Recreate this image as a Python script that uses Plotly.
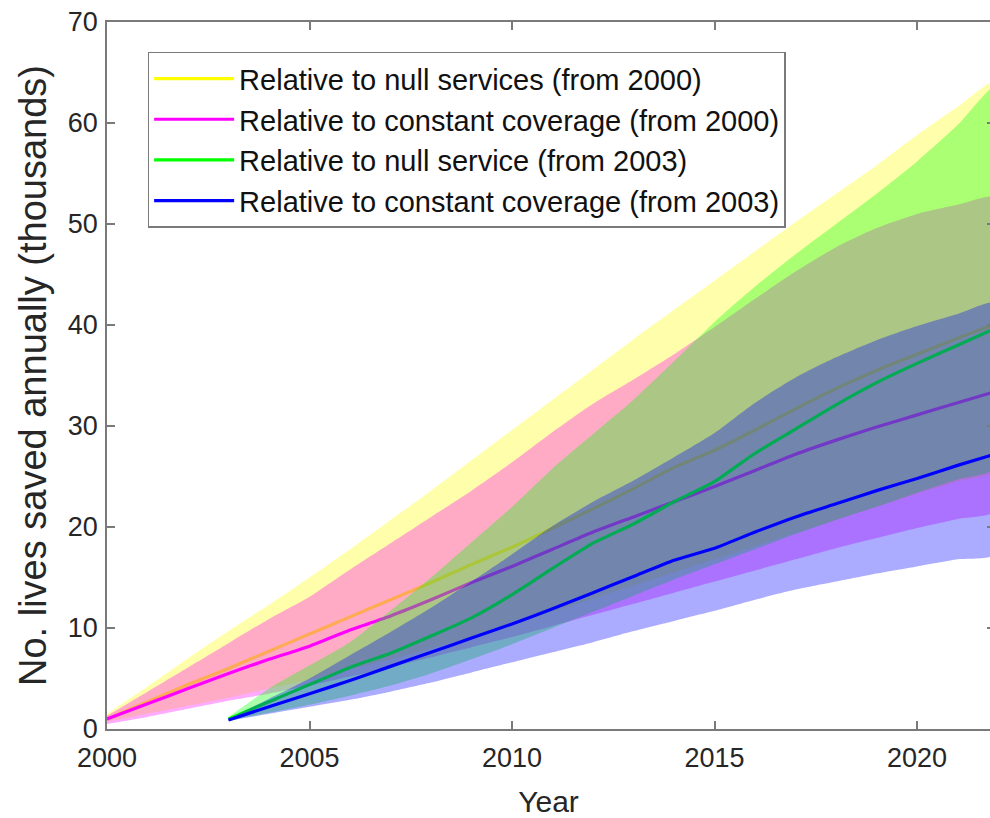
import plotly.graph_objects as go

# Years for the two start points
years_2000 = list(range(2000, 2023))
years_2003 = list(range(2003, 2023))

# Relative to null services (from 2000): median and uncertainty band (thousands)
null2000_mid = [1.0, 2.7, 4.4, 6.0, 7.7, 9.4, 11.1, 12.8, 14.5, 16.3, 18.0, 19.9,
                21.8, 23.8, 25.9, 27.6, 29.6, 31.7, 33.7, 35.5, 37.1, 38.7, 40.2]
null2000_hi = [1.5, 4.2, 7.0, 9.7, 12.3, 15.0, 17.8, 20.7, 23.6, 26.6, 29.6, 32.6,
               35.6, 38.6, 41.5, 44.4, 47.3, 50.2, 53.0, 55.8, 58.8, 61.6, 64.2]
null2000_lo = [0.7, 1.5, 2.3, 3.1, 4.0, 4.9, 5.9, 6.9, 8.0, 9.1, 10.3, 11.6,
               12.9, 14.2, 15.5, 16.8, 18.1, 19.4, 20.7, 22.0, 23.3, 24.5, 25.7]

# Relative to constant coverage (from 2000)
const2000_mid = [1.0, 2.5, 4.0, 5.5, 6.9, 8.2, 9.8, 11.2, 12.8, 14.5, 16.1, 17.8,
                 19.5, 21.0, 22.5, 24.0, 25.6, 27.2, 28.6, 29.9, 31.1, 32.3, 33.5]
const2000_hi = [1.3, 3.7, 6.1, 8.5, 10.9, 13.1, 15.8, 18.4, 21.0, 23.6, 26.4, 29.4,
                32.2, 34.6, 37.1, 39.8, 42.6, 45.3, 47.7, 49.6, 51.0, 51.9, 52.6]
const2000_lo = [0.5, 1.2, 2.0, 2.8, 3.5, 4.3, 5.2, 6.1, 7.1, 8.1, 9.1, 10.2,
                11.3, 12.4, 13.5, 14.6, 15.7, 16.8, 17.9, 18.9, 19.9, 20.8, 21.7]

# Relative to null service (from 2003)
null2003_mid = [1.0, 2.7, 4.4, 6.1, 7.5, 9.2, 11.0, 13.3, 15.9, 18.4, 20.3, 22.5,
                24.5, 27.3, 29.7, 32.1, 34.3, 36.2, 38.0, 39.8]
null2003_hi = [1.2, 4.0, 6.3, 8.6, 11.7, 15.0, 18.5, 22.0, 25.8, 29.2, 32.6, 36.4,
               40.3, 43.8, 47.0, 50.0, 53.0, 56.2, 59.8, 63.8]
null2003_lo = [0.8, 1.6, 2.4, 3.3, 4.3, 5.5, 6.9, 8.4, 10.0, 11.6, 13.2, 14.8,
               16.3, 17.8, 19.3, 20.7, 22.0, 23.4, 24.7, 26.0]

# Relative to constant coverage (from 2003)
const2003_mid = [0.9, 2.2, 3.5, 4.8, 6.2, 7.6, 9.0, 10.4, 11.9, 13.5, 15.1, 16.7,
                 17.9, 19.5, 21.0, 22.3, 23.6, 24.8, 26.1, 27.3]
const2003_hi = [1.0, 3.0, 5.0, 7.3, 9.6, 12.0, 14.6, 17.3, 20.1, 22.5, 24.6, 26.9,
                29.3, 32.3, 34.8, 36.8, 38.5, 39.9, 41.1, 42.2]
const2003_lo = [0.8, 1.5, 2.2, 2.9, 3.7, 4.6, 5.6, 6.6, 7.6, 8.6, 9.7, 10.7,
                11.7, 12.8, 13.8, 14.6, 15.4, 16.1, 16.8, 17.4]

series = [
    ("Relative to null services (from 2000)", years_2000,
     null2000_mid, null2000_lo, null2000_hi, (255, 255, 0)),
    ("Relative to constant coverage (from 2000)", years_2000,
     const2000_mid, const2000_lo, const2000_hi, (255, 0, 255)),
    ("Relative to null service (from 2003)", years_2003,
     null2003_mid, null2003_lo, null2003_hi, (0, 255, 0)),
    ("Relative to constant coverage (from 2003)", years_2003,
     const2003_mid, const2003_lo, const2003_hi, (0, 0, 255)),
]

BAND_ALPHA = 0.33
AXIS_GREY = "#7a7a7a"
TEXT = "#262626"
FONT = "Liberation Sans, Arial, sans-serif"

fig = go.Figure()
for name, yrs, mid, lo, hi, (r, g, b) in series:
    # shaded band: upper edge forward, lower edge back
    fig.add_trace(go.Scatter(
        x=yrs + yrs[::-1], y=hi + lo[::-1],
        fill="toself", mode="lines",
        line=dict(width=0, shape="spline", smoothing=0.6),
        fillcolor=f"rgba({r},{g},{b},{BAND_ALPHA})",
        hoverinfo="skip", showlegend=False))
    fig.add_trace(go.Scatter(
        x=yrs, y=mid, mode="lines", name=name,
        line=dict(color=f"rgb({r},{g},{b})", width=3.2,
                  shape="spline", smoothing=0.5)))

# invisible trace carrying the right-hand tick marks
fig.add_trace(go.Scatter(x=[2000], y=[0], yaxis="y2", mode="markers",
                         marker=dict(opacity=0), showlegend=False,
                         hoverinfo="skip"))

fig.update_layout(
    width=990, height=818,
    margin=dict(l=107, r=0, t=22, b=89),
    paper_bgcolor="white", plot_bgcolor="white",
    font=dict(family=FONT, color=TEXT, size=26),
    showlegend=True,
    legend=dict(
        x=0.046, y=0.958, xanchor="left", yanchor="top",
        bgcolor="white", bordercolor=AXIS_GREY, borderwidth=1.5,
        font=dict(size=29, color="#111111"), itemwidth=80,
        tracegroupgap=0,
    ),
    xaxis=dict(
        range=[2000, 2021.8], tickvals=[2000, 2005, 2010, 2015, 2020],
        ticks="inside", ticklen=8, tickcolor=AXIS_GREY, tickwidth=1.5,
        showline=True, linecolor=AXIS_GREY, linewidth=1.5, mirror="ticks",
        showgrid=False, zeroline=False, ticklabelstandoff=4,
        tickfont=dict(size=27, color=TEXT),
        title=dict(text="Year", font=dict(size=30, color=TEXT), standoff=20),
    ),
    yaxis=dict(
        range=[0, 70], dtick=10,
        ticks="inside", ticklen=8, tickcolor=AXIS_GREY, tickwidth=1.5,
        showline=True, linecolor=AXIS_GREY, linewidth=1.5,
        showgrid=False, zeroline=False, ticklabelstandoff=2,
        tickfont=dict(size=27, color=TEXT),
        title=dict(text="No. lives saved annually (thousands)",
                   font=dict(size=38, color=TEXT), standoff=10),
    ),
    yaxis2=dict(
        range=[0, 70], dtick=10, overlaying="y", side="right",
        ticks="inside", ticklen=3, tickcolor=AXIS_GREY, tickwidth=1.5,
        showticklabels=False, showline=False, showgrid=False, zeroline=False,
    ),
)

fig.write_html("out.html")
